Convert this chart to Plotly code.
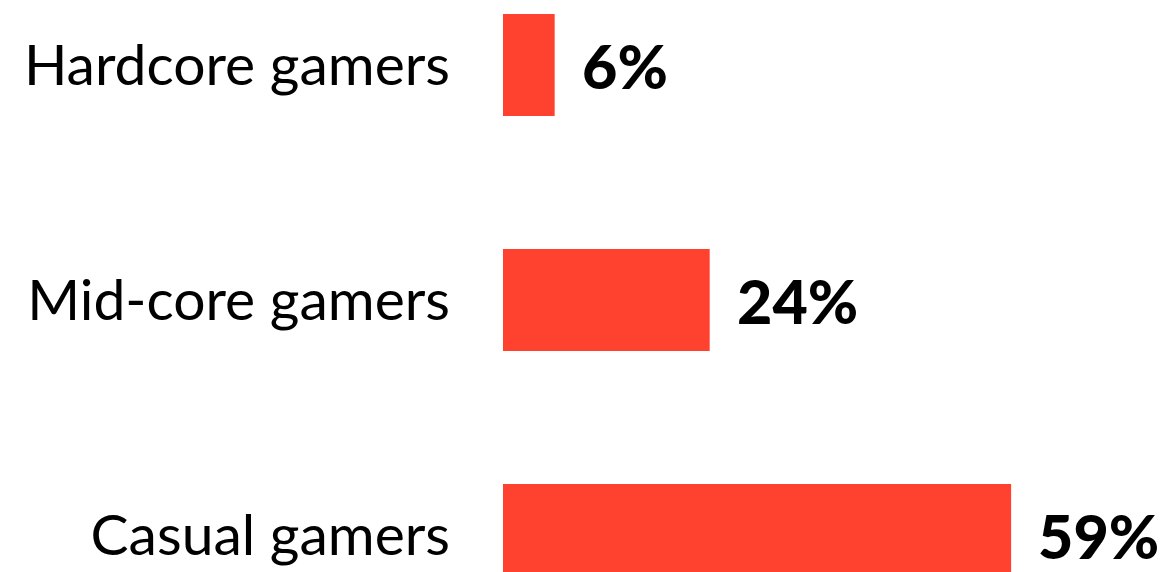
import plotly.graph_objects as go

# Share of players by gamer segment (%)
categories = ["Hardcore gamers", "Mid-core gamers", "Casual gamers"]
shares = [6, 24, 59]

bar_color = "#FF422F"

fig = go.Figure(
    go.Bar(
        x=shares,
        y=categories,
        orientation="h",
        width=0.434,
        marker=dict(color=bar_color, line=dict(width=0)),
        hoverinfo="skip",
    )
)

# Value labels to the right of each bar
for cat, val in zip(categories, shares):
    fig.add_annotation(
        x=val, y=cat, xref="x", yref="y",
        text=f"{val}%",
        showarrow=False, xanchor="left", yanchor="middle",
        xshift=25,
        font=dict(family="Lato", size=61, color="#000000", weight=900),
    )

fig.update_layout(
    width=1167, height=572,
    margin=dict(l=503, r=0, t=0, b=0),
    paper_bgcolor="white", plot_bgcolor="white",
    showlegend=False,
    xaxis=dict(range=[0, 77.1], visible=False, fixedrange=True),
    yaxis=dict(
        type="category",
        categoryorder="array",
        categoryarray=categories[::-1],
        range=[-0.157, 2.277],
        showgrid=False, zeroline=False, showline=False,
        ticks="",
        ticklabelstandoff=52,
        tickfont=dict(family="Lato", size=57, color="#000000"),
        fixedrange=True,
    ),
)

fig.write_html("out.html", config={"displayModeBar": False})
